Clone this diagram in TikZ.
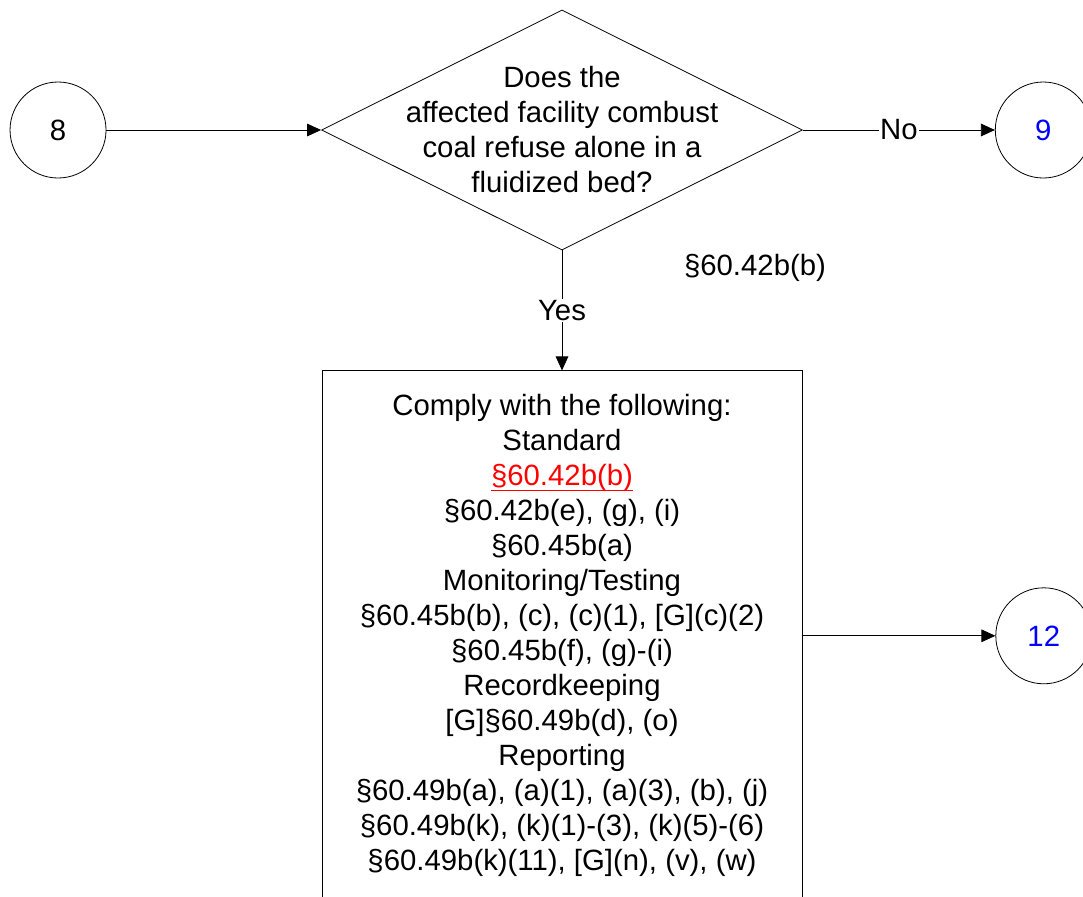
\documentclass[tikz,border=0pt]{standalone}
\usepackage{fontspec}
\setmainfont{Liberation Sans}
\usetikzlibrary{shapes.geometric}
\usetikzlibrary{positioning}
\usetikzlibrary{arrows.meta}

\newcommand{\refline}[1]{\setbox0\hbox{#1}\rlap{\rule[-3.6pt]{\wd0}{0.7pt}}\box0}

\tikzset{
  connector/.style={circle, draw, minimum size=72pt, inner sep=0pt},
  decision/.style={diamond, draw, minimum width=360.75pt, minimum height=180pt, inner sep=0pt},
  action/.style={rectangle, draw, minimum width=360pt, minimum height=397.5pt, align=center},
  flow/.style={-{Triangle[length=10.5pt,width=9.5pt]}},
  edgelabel/.style={fill=white, inner sep=1pt},
}

\begin{document}
\begin{tikzpicture}[x=0.75pt, y=-0.75pt, line width=0.6pt,
    font=\fontsize{22pt}{26.25pt}\selectfont]
    \clip (0,0) rectangle (1083,897);

    % Decision
    \node[decision] (q) at (562,130) {};
    \node[align=center] (qtext) at (q) {Does the\\affected facility combust\\coal refuse alone in a\\fluidized bed?};
    \node[connector, left=161pt of q] (c8) {8};
    \draw[flow] (c8) -- (q);
    \node[connector, right=144pt of q, text=blue] (c9) {9};
    \draw[flow] (q) -- node[edgelabel] {No} (c9);
    \node (qref) at (755,268) {§60.42b(b)};

    % Requirements
    \node[action, below=90pt of q] (comply) {Comply with the following:\\Standard\\
      \textcolor{red}{\refline{§60.42b(b)}}\\
      §60.42b(e), (g), (i)\\
      §60.45b(a)\\
      Monitoring/Testing\\
      §60.45b(b), (c), (c)(1), [G](c)(2)\\
      §60.45b(f), (g)-(i)\\
      Recordkeeping\\
      {[G]}§60.49b(d), (o)\\
      Reporting\\
      §60.49b(a), (a)(1), (a)(3), (b), (j)\\
      §60.49b(k), (k)(1)-(3), (k)(5)-(6)\\
      §60.49b(k)(11), [G](n), (v), (w)};
    \draw[flow] (q) -- node[edgelabel] {Yes} (comply);
    \node[connector, right=144.75pt of comply, text=blue] (c12) {12};
    \draw[flow] (comply) -- (c12);
\end{tikzpicture}
\end{document}
